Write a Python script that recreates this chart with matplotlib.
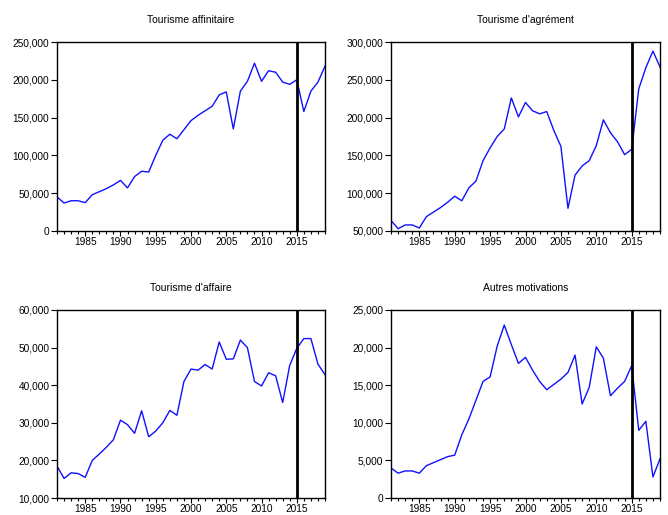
import matplotlib.pyplot as plt
from matplotlib.ticker import FuncFormatter, MultipleLocator

plt.rcParams['font.family'] = ['Liberation Sans', 'DejaVu Sans']

years = list(range(1981, 2020))

affinitaire = [45000, 37000, 40000, 40000, 37500, 48000, 52000, 56000, 61000, 67000,
               57000, 72000, 79000, 78000, 100000, 120000, 128000, 122000, 134000, 146000,
               153000, 159000, 165000, 180000, 184000, 135000, 185000, 198000, 222000, 198000,
               212000, 210000, 197000, 194000, 200000, 158000, 185000, 197000, 218000]

agrement = [64000, 53000, 58000, 58000, 54000, 69000, 75000, 81000, 88000, 96000,
            90000, 107000, 116000, 143000, 160000, 175000, 185000, 226000, 201000, 220000,
            209000, 205000, 208000, 183000, 162000, 80000, 124000, 136000, 143000, 163000,
            197000, 180000, 168000, 151000, 158000, 238000, 266000, 288000, 267000]

affaire = [18500, 15200, 16700, 16500, 15500, 20000, 21700, 23500, 25500, 30700,
           29500, 27200, 33200, 26300, 27800, 30000, 33300, 32000, 41000, 44300,
           44000, 45500, 44300, 51500, 46900, 47000, 52000, 50000, 41000, 39800,
           43300, 42500, 35400, 45300, 49800, 52400, 52400, 45600, 42800]

autres = [4000, 3300, 3600, 3600, 3300, 4300, 4700, 5100, 5500, 5700,
          8400, 10500, 13000, 15500, 16100, 20200, 23000, 20400, 17900, 18700,
          17000, 15500, 14400, 15100, 15800, 16700, 19000, 12500, 14700, 20100,
          18600, 13600, 14600, 15500, 17600, 9000, 10200, 2800, 5200]

titles = ["Tourisme affinitaire", "Tourisme d'agrément", "Tourisme d'affaire", "Autres motivations"]
series = [affinitaire, agrement, affaire, autres]
ylims = [(0, 250000), (50000, 300000), (10000, 60000), (0, 25000)]
ysteps = [50000, 50000, 10000, 5000]
break_year = 2015

fig = plt.figure(figsize=(6.68, 5.15), dpi=100)
W, H = 668, 515
boxes = [(57, 42, 325, 231), (391, 42, 660, 231), (57, 310, 325, 498), (391, 310, 660, 498)]

for (x0, y0, x1, y1), title, vals, ylim, step in zip(boxes, titles, series, ylims, ysteps):
    ax = fig.add_axes([x0 / W, 1 - y1 / H, (x1 - x0) / W, (y1 - y0) / H])
    ax.plot(years, vals, color='#1010ff', lw=1.0)
    ax.axvline(break_year, color='black', lw=2.0)
    ax.set_xlim(1981, 2019)
    ax.set_ylim(*ylim)
    ax.xaxis.set_major_locator(MultipleLocator(5))
    ax.xaxis.set_minor_locator(MultipleLocator(1))
    ax.yaxis.set_major_locator(MultipleLocator(step))
    ax.yaxis.set_major_formatter(FuncFormatter(lambda v, p: f"{int(v):,}"))
    ax.tick_params(axis='y', which='major', labelsize=7.3, direction='out',
                   length=4, width=0.8, colors='black', pad=1.5)
    ax.tick_params(axis='x', which='major', labelsize=7.3, direction='out',
                   length=3.5, width=0.8, colors='black', pad=0.5)
    ax.tick_params(axis='x', which='minor', direction='out', length=2, width=0.8)
    ax.tick_params(axis='y', which='minor', left=False)
    for s in ax.spines.values():
        s.set_linewidth(1.0)
    ax.set_title(title, fontsize=7.5, pad=14)

fig.savefig("out.png", dpi=100)
